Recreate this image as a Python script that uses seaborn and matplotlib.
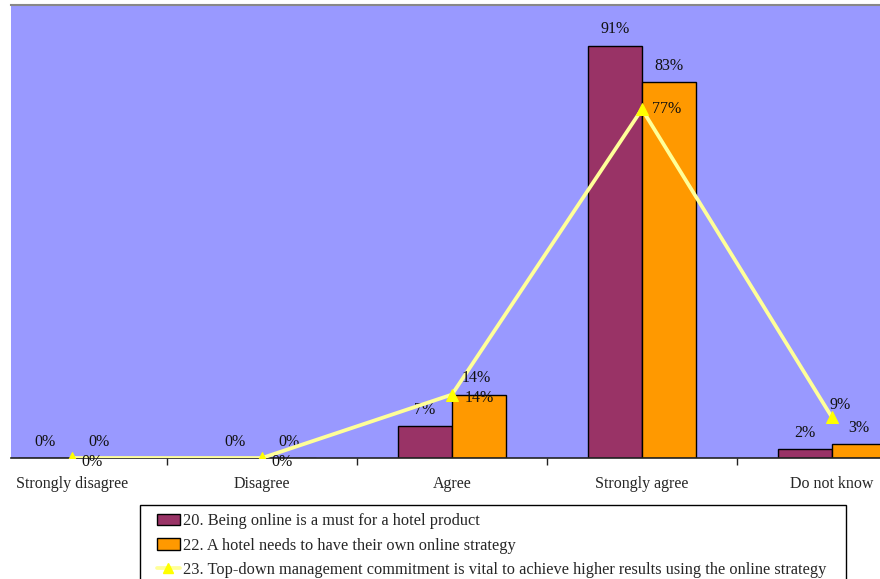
import numpy as np
import pandas as pd
import matplotlib
matplotlib.use("Agg")
import matplotlib.pyplot as plt
import seaborn as sns
from matplotlib.patches import Patch, Rectangle
from matplotlib.lines import Line2D

categories = ["Strongly disagree", "Disagree", "Agree", "Strongly agree", "Do not know"]
series_names = [
    "20. Being online is a must for a hotel product",
    "22. A hotel needs to have their own online strategy",
    "23. Top-down management commitment is vital to achieve higher results using the online strategy",
]
s20 = [0, 0, 7, 91, 2]
s22 = [0, 0, 14, 83, 3]
s23 = [0, 0, 14, 77, 9]

PURPLE = "#993366"
ORANGE = "#FF9900"
BG = "#9999FF"
LINE = "#FFFF99"
MARK = "#FFFF00"
FS = 11.5

sns.set_style("white")
plt.rcParams["font.family"] = ["Liberation Serif", "DejaVu Serif"]

fig = plt.figure(figsize=(8.8, 5.79), dpi=100)
ax = fig.add_axes([11 / 880, (579 - 458) / 579, 1 - 11 / 880, (458 - 5) / 579])
ax.set_facecolor(BG)

df = pd.DataFrame({
    "category": categories * 2,
    "value": s20 + s22,
    "series": [series_names[0]] * len(categories) + [series_names[1]] * len(categories),
})
sns.barplot(data=df, x="category", y="value", hue="series", order=categories,
            hue_order=series_names[:2], palette=[PURPLE, ORANGE], saturation=1,
            width=0.568, edgecolor="black", linewidth=1.0, legend=False, ax=ax, zorder=2)

bar_texts = []
for cont, vals in zip(ax.containers, [s20, s22]):
    bar_texts.append(ax.bar_label(cont, labels=[f"{v}%" for v in vals], padding=6,
                                  fontsize=FS, color="#111111"))
# the "14%" label of the orange bar sits low, on the bar's top edge (as in the reference)
bar_texts[1][2].set_y(-8)

xs = np.arange(len(categories))
sns.lineplot(x=xs, y=s23, ax=ax, color=LINE, linewidth=2.7, marker="^",
             markersize=8, markerfacecolor=MARK, markeredgecolor=MARK, zorder=4)

offsets = [(6.5, -3), (6.5, -3), (7, 12), (7, 0), (-1.5, 9)]
for x, v, off in zip(xs, s23, offsets):
    ax.annotate(f"{v}%", (x, v), xytext=off, textcoords="offset points",
                ha="left", va="center", fontsize=FS, color="#111111", zorder=5)

ax.set_xlim(-0.321, 4.253)
ax.set_ylim(0, 100)
ax.set_xlabel("")
ax.set_ylabel("")
ax.set_yticks([])
ax.set_xticks(xs)
ax.set_xticklabels(categories, fontsize=FS)
ax.set_xticks(np.arange(0.5, len(categories) - 1, 1), minor=True)
ax.tick_params(axis="x", which="major", length=0, pad=13)
ax.tick_params(axis="x", which="minor", length=5, width=1, direction="out", bottom=True, color="#222222")

for side in ["left", "right"]:
    ax.spines[side].set_visible(False)
ax.spines["top"].set_color("#888888")
ax.spines["top"].set_linewidth(1.5)
ax.spines["bottom"].set_color("#222222")
ax.spines["bottom"].set_linewidth(1.2)

# legend frame (its bottom edge is cut off by the figure edge, as in the reference)
fig.patches.append(Rectangle((140 / 880, -0.02), 706 / 880, 1 - 505 / 579 + 0.02,
                             transform=fig.transFigure, facecolor="white",
                             edgecolor="black", linewidth=1.0, zorder=0))

handles = [
    Patch(facecolor=PURPLE, edgecolor="black", linewidth=1.0),
    Patch(facecolor=ORANGE, edgecolor="black", linewidth=1.0),
    Line2D([0], [0], color=LINE, linewidth=2.7, marker="^", markersize=7,
           markerfacecolor=MARK, markeredgecolor=MARK),
]
leg = fig.legend(handles, series_names, loc="upper left",
                 bbox_to_anchor=(157 / 880, 1 - 513 / 579),
                 frameon=False, fontsize=11.8,
                 handlelength=1.4, handletextpad=0.2, labelspacing=0.52,
                 borderpad=0, borderaxespad=0)

fig.savefig("out.png", dpi=100)
